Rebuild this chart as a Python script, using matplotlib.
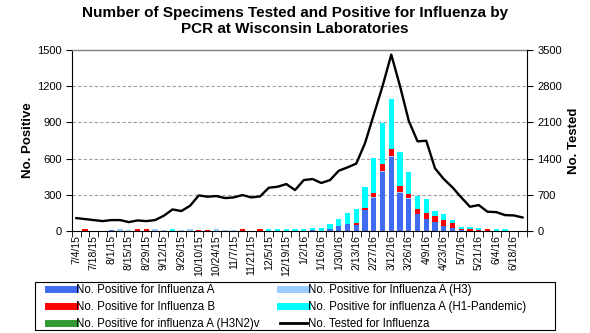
import numpy as np
import matplotlib
matplotlib.use("Agg")
import matplotlib.pyplot as plt
from matplotlib.lines import Line2D
from matplotlib.patches import Rectangle

plt.rcParams['font.family'] = ['Liberation Sans', 'DejaVu Sans']

# week ending dates
weeks = ['7/4/15', '7/11/15', '7/18/15', '7/25/15', '8/1/15', '8/8/15', '8/15/15',
         '8/22/15', '8/29/15', '9/5/15', '9/12/15', '9/19/15', '9/26/15', '10/3/15',
         '10/10/15', '10/17/15', '10/24/15', '10/31/15', '11/7/15', '11/14/15',
         '11/21/15', '11/28/15', '12/5/15', '12/12/15', '12/19/15', '12/26/15',
         '1/2/16', '1/9/16', '1/16/16', '1/23/16', '1/30/16', '2/6/16', '2/13/16',
         '2/20/16', '2/27/16', '3/5/16', '3/12/16', '3/19/16', '3/26/16', '4/2/16',
         '4/9/16', '4/16/16', '4/23/16', '4/30/16', '5/7/16', '5/14/16', '5/21/16',
         '5/28/16', '6/4/16', '6/11/16', '6/18/16', '6/25/16']

flu_a = [0, 0, 0, 0, 8, 0, 0, 0, 0, 0,
         0, 0, 0, 0, 0, 0, 0, 0, 0, 0,
         0, 0, 0, 0, 0, 0, 0, 8, 0, 19,
         44, 61, 50, 171, 276, 492, 616, 318, 268, 142,
         99, 75, 44, 28, 5, 0, 0, 0, 0, 0,
         0, 0]
flu_a_h3 = [0, 0, 0, 0, 0, 17, 8, 0, 0, 17,
            8, 0, 8, 17, 0, 0, 17, 8, 8, 0,
            0, 0, 0, 0, 0, 0, 0, 0, 0, 0,
            0, 0, 0, 0, 5, 6, 5, 4, 3, 3,
            0, 0, 0, 0, 0, 0, 0, 0, 0, 0,
            0, 0]
flu_b = [0, 17, 0, 0, 0, 0, 0, 17, 17, 0,
         0, 0, 0, 0, 8, 8, 0, 0, 0, 17,
         0, 17, 0, 0, 0, 0, 0, 0, 0, 0,
         0, 0, 19, 22, 37, 57, 61, 54, 38, 38,
         50, 49, 47, 36, 12, 17, 11, 17, 0, 0,
         0, 0]
flu_h1 = [0, 0, 0, 0, 0, 0, 0, 0, 0, 0,
          0, 17, 0, 0, 0, 0, 0, 0, 0, 0,
          0, 0, 17, 17, 17, 17, 16, 20, 28, 39,
          55, 91, 116, 174, 287, 343, 415, 279, 183, 107,
          116, 42, 50, 27, 16, 16, 14, 0, 17, 17,
          0, 0]
flu_h3n2v = [0] * 52
tested = [251, 232, 213, 193, 213, 213, 174, 206, 193, 213,
          297, 419, 387, 490, 690, 664, 677, 638, 651, 696,
          651, 670, 838, 857, 909, 793, 986, 1006, 930, 986,
          1167, 1231, 1305, 1700, 2250, 2800, 3410, 2800, 2130, 1735,
          1745, 1212, 1006, 844, 651, 470, 503, 374, 367, 309,
          303, 264]

c_a = '#3F6CF0'
c_h3 = '#99CCFF'
c_b = '#FF0000'
c_h1 = '#00FFFF'
c_v = '#339933'

x = np.arange(len(weeks))

fig = plt.figure(figsize=(5.9, 3.33), dpi=100)
ax = fig.add_axes([0.122, 0.306, 0.771, 0.544])

# stacked bars, bottom to top
bottom = np.zeros(len(weeks))
for vals, col in [(flu_a, c_a), (flu_a_h3, c_h3), (flu_b, c_b), (flu_h1, c_h1), (flu_h3n2v, c_v)]:
    v = np.array(vals, dtype=float)
    ax.bar(x, v, width=0.6, bottom=bottom, color=col, linewidth=0, zorder=2)
    bottom += v

ax.set_xlim(-0.5, len(weeks) - 0.5)
ax.set_ylim(0, 1500)
ax.set_yticks(range(0, 1501, 300))
for y in range(300, 1500, 300):
    ax.axhline(y, color='#A0A0A0', lw=0.8, ls=(0, (3, 2)), zorder=1)

ax.set_xticks(x[::2])
ax.set_xticklabels(weeks[::2], rotation=90, fontsize=7.5)
ax.set_xticks(np.arange(-0.5, len(weeks), 1), minor=True)
ax.tick_params(axis='x', which='major', length=0, pad=3)
ax.tick_params(axis='x', which='minor', length=4, direction='out', color='black')
ax.tick_params(axis='y', labelsize=8, length=4, direction='out', color='black')

ax.spines['top'].set_color('#808080')
ax.spines['top'].set_linewidth(1)
for s in ['left', 'bottom']:
    ax.spines[s].set_color('black')
ax.spines['right'].set_visible(False)

ax.set_ylabel('No. Positive', fontsize=9.5, fontweight='bold', labelpad=2)

ax2 = ax.twinx()
ax2.plot(x, tested, color='black', lw=1.7, zorder=3)
ax2.set_ylim(0, 3500)
ax2.set_yticks(range(0, 3501, 700))
ax2.tick_params(axis='y', labelsize=8, length=4, direction='out', color='black')
ax2.spines['right'].set_color('black')
ax2.spines['top'].set_visible(False)
ax2.spines['left'].set_visible(False)
ax2.spines['bottom'].set_visible(False)
ax2.set_ylabel('No. Tested', fontsize=9.5, fontweight='bold', labelpad=4)
ax2.yaxis.set_label_position('right')

fig.suptitle('Number of Specimens Tested and Positive for Influenza by\nPCR at Wisconsin Laboratories',
             fontsize=11, fontweight='bold', y=0.982, linespacing=1.15)

# legend: two frameless columns inside one box
W, H = 590, 333
fig.patches.append(Rectangle((35 / W, 3 / H), 520 / W, 48 / H, transform=fig.transFigure,
                             fill=False, edgecolor='black', lw=0.8))

left_handles = [Line2D([], [], color=c_a, lw=5),
                Line2D([], [], color=c_b, lw=5),
                Line2D([], [], color=c_v, lw=5)]
left_labels = ['No. Positive for Influenza A',
               'No. Positive for Influenza B',
               'No. Positive for influenza A (H3N2)v']
right_handles = [Line2D([], [], color=c_h3, lw=5),
                 Line2D([], [], color=c_h1, lw=5),
                 Line2D([], [], color='black', lw=2)]
right_labels = ['No. Positive for Influenza A (H3)',
                'No. Positive for influenza A (H1-Pandemic)',
                'No. Tested for Influenza']

for hs, ls, x0 in [(left_handles, left_labels, 48), (right_handles, right_labels, 280)]:
    fig.legend(hs, ls, loc='lower left', bbox_to_anchor=(x0 / W, 3 / H), fontsize=8.3,
               frameon=False, handlelength=2.3, handletextpad=0.15,
               borderpad=0, borderaxespad=0, labelspacing=0.45)

fig.savefig('out.png', dpi=100)
